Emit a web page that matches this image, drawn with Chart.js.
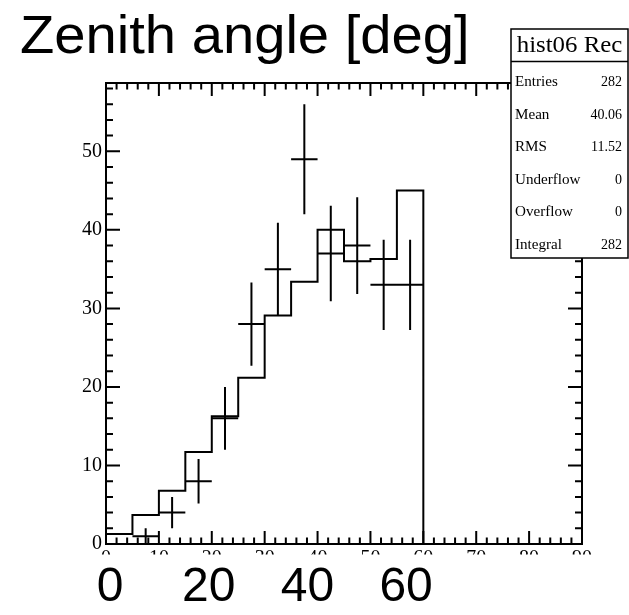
<!DOCTYPE html>
<html>
<head>
<meta charset="utf-8">
<script src="https://cdn.jsdelivr.net/npm/chart.js@4.4.0/dist/chart.umd.min.js"></script>
<style>
  html, body { margin: 0; padding: 0; background: #fff; }
  canvas { display: block; }
</style>
</head>
<body>
<canvas id="zenith" width="629" height="615"></canvas>
<script>
// Bin edges of the zenith-angle histogram (deg)
const binEdges = [0, 5, 10, 15, 20, 25, 30, 35, 40, 45, 50, 55, 60];
// Reconstructed shape (step histogram), per bin
const recoShape = [1.27, 3.68, 6.77, 11.73, 16.26, 21.18, 29.1, 33.4, 40.0, 36.0, 36.3, 45.0];
// Counted events per bin and their statistical errors
const dataCounts = [0, 1, 4, 8, 16, 28, 35, 49, 37, 38, 33, 33];
const dataErrors = [0, 1, 2, 2.83, 4, 5.29, 5.92, 7, 6.08, 6.16, 5.74, 5.74];
// Axis tick labels
const xTickValues = [0, 10, 20, 30, 40, 50, 60, 70, 80, 90];
const yTickValues = [0, 10, 20, 30, 40, 50];
const bottomLabels = ['0', '20', '40', '60'];
// Title and statistics box
const titleText = 'Zenith angle [deg]';
const statsTitle = 'hist06 Rec';
const statsNames = ['Entries', 'Mean', 'RMS', 'Underflow', 'Overflow', 'Integral'];
const statsValues = ['282', '40.06', '11.52', '0', '0', '282'];

const X_MIN = 0, X_MAX = 90, Y_MAX = 58.7;

// Step outline: one point per left bin edge, closing at zero on the last edge
const stepPoints = binEdges.map((x, i) => ({ x: x, y: i < recoShape.length ? recoShape[i] : 0 }));

// Error crosses: horizontal bin-width bars and vertical error bars, separated by gaps
const hBars = [];
const vBars = [];
dataCounts.forEach((n, i) => {
  if (n <= 0) return;
  const lo = binEdges[i], hi = binEdges[i + 1], c = (lo + hi) / 2;
  hBars.push({ x: lo, y: n }, { x: hi, y: n }, { x: c, y: null });
  vBars.push({ x: c, y: Math.max(0, n - dataErrors[i]) }, { x: c, y: n + dataErrors[i] }, { x: c, y: null });
});

const serif = '"Liberation Serif", "Times New Roman", serif';
const sans = '"Liberation Sans", Arial, sans-serif';

function scaledText(ctx, text, x, y, sx, align) {
  ctx.save();
  ctx.translate(x, y);
  ctx.scale(sx, 1);
  ctx.textAlign = align;
  ctx.fillText(text, 0, 0);
  ctx.restore();
}

const rootFrame = {
  id: 'rootFrame',
  afterDatasetsDraw(chart) {
    const { ctx, chartArea: a } = chart;
    const xs = chart.scales.x, ys = chart.scales.y;
    ctx.save();
    ctx.strokeStyle = '#000';
    ctx.fillStyle = '#000';
    ctx.lineWidth = 2;
    ctx.strokeRect(a.left, a.top, a.right - a.left, a.bottom - a.top);

    // inward ticks on all four sides, minor every 2 units
    ctx.beginPath();
    for (let i = 0; 2 * i <= X_MAX; i++) {
      const v = 2 * i;
      const px = xs.getPixelForValue(v);
      const len = v % 10 === 0 ? 13 : 6.5;
      ctx.moveTo(px, a.bottom); ctx.lineTo(px, a.bottom - len);
      ctx.moveTo(px, a.top); ctx.lineTo(px, a.top + len);
    }
    for (let i = 0; 2 * i <= Y_MAX; i++) {
      const v = 2 * i;
      const py = ys.getPixelForValue(v);
      const len = v % 10 === 0 ? 14 : 7;
      ctx.moveTo(a.left, py); ctx.lineTo(a.left + len, py);
      ctx.moveTo(a.right, py); ctx.lineTo(a.right - len, py);
    }
    ctx.stroke();

    // y tick labels
    ctx.font = '20px ' + serif;
    ctx.textAlign = 'right';
    ctx.textBaseline = 'middle';
    yTickValues.forEach(v => ctx.fillText(String(v), a.left - 4, ys.getPixelForValue(v)));

    // x tick labels, cut off just below the axis
    ctx.save();
    ctx.beginPath();
    ctx.rect(0, a.bottom + 1, chart.width, 9.5);
    ctx.clip();
    ctx.textAlign = 'center';
    ctx.textBaseline = 'alphabetic';
    xTickValues.forEach(v => ctx.fillText(String(v), xs.getPixelForValue(v), a.bottom + 19.5));
    ctx.restore();
    ctx.restore();
  },
  afterDraw(chart) {
    const { ctx } = chart;
    ctx.save();
    ctx.fillStyle = '#000';
    ctx.textBaseline = 'alphabetic';

    // title
    ctx.font = '54px ' + sans;
    scaledText(ctx, titleText, 20, 53, 1.04, 'left');

    // large labels under the frame
    ctx.font = '48px ' + sans;
    bottomLabels.forEach((t, i) => scaledText(ctx, t, 110 + i * 98.7, 601, 1, 'center'));

    // statistics box
    const bx = 511, by = 29, bw = 117, bh = 229, sep = 61.5;
    ctx.fillStyle = '#fff';
    ctx.fillRect(bx, by, bw, bh);
    ctx.strokeStyle = '#000';
    ctx.lineWidth = 1.5;
    ctx.strokeRect(bx, by, bw, bh);
    ctx.beginPath();
    ctx.moveTo(bx, sep); ctx.lineTo(bx + bw, sep);
    ctx.stroke();
    ctx.fillStyle = '#000';
    ctx.font = '23px ' + serif;
    scaledText(ctx, statsTitle, bx + bw / 2, 52, 1.08, 'center');
    ctx.font = '14px ' + serif;
    statsNames.forEach((name, i) => {
      const yb = 86 + i * 32.5;
      scaledText(ctx, name, bx + 4, yb, 1.08, 'left');
      scaledText(ctx, statsValues[i], bx + bw - 6, yb, 1, 'right');
    });
    ctx.restore();
  }
};

new Chart(document.getElementById('zenith'), {
  type: 'line',
  data: {
    datasets: [
      {
        label: 'Rec',
        data: stepPoints,
        stepped: 'before',
        borderColor: '#000',
        borderWidth: 2,
        pointRadius: 0,
        fill: false
      },
      {
        label: 'bin width',
        data: hBars,
        borderColor: '#000',
        borderWidth: 2,
        pointRadius: 0,
        spanGaps: false,
        fill: false
      },
      {
        label: 'error',
        data: vBars,
        borderColor: '#000',
        borderWidth: 2,
        pointRadius: 0,
        spanGaps: false,
        fill: false
      }
    ]
  },
  options: {
    responsive: false,
    animation: false,
    devicePixelRatio: 1,
    parsing: true,
    layout: { padding: { left: 106, top: 83, right: 47, bottom: 71 } },
    scales: {
      x: { type: 'linear', min: X_MIN, max: X_MAX, display: false },
      y: { type: 'linear', min: 0, max: Y_MAX, display: false }
    },
    plugins: {
      legend: { display: false },
      tooltip: { enabled: false },
      title: { display: false }
    }
  },
  plugins: [rootFrame]
});
</script>
</body>
</html>
